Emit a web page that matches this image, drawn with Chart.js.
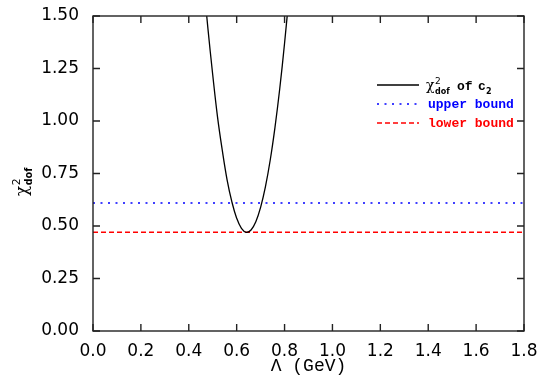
<!DOCTYPE html>
<html>
<head>
<meta charset="utf-8">
<script src="https://cdn.jsdelivr.net/npm/chart.js@4"></script>
<style>
  body { margin: 0; background: #fff; }
  #wrap { width: 540px; height: 377px; }
</style>
</head>
<body>
<div id="wrap"><canvas id="chi2Chart"></canvas></div>
<script>
// Values
const lambdaVals = [0.47, 0.48, 0.50, 0.52, 0.54, 0.56, 0.58, 0.60, 0.62, 0.64, 0.66, 0.68, 0.70, 0.72, 0.74, 0.76, 0.78, 0.80, 0.82];
const chi2Vals   = [1.56, 1.44, 1.22, 1.02, 0.86, 0.72, 0.615, 0.537, 0.489, 0.470, 0.481, 0.520, 0.589, 0.686, 0.813, 0.970, 1.155, 1.370, 1.61];
const boundRange = [0.0, 1.8];
const upperBound = [0.61, 0.61];
const lowerBound = [0.47, 0.47];
const xTickVals = [0.0, 0.2, 0.4, 0.6, 0.8, 1.0, 1.2, 1.4, 1.6, 1.8];
const yTickVals = [0.00, 0.25, 0.50, 0.75, 1.00, 1.25, 1.50];
const legendLabels = ['of', 'upper bound', 'lower bound'];

const toPoints = (xs, ys) => xs.map((x, i) => ({ x: x, y: ys[i] }));

// draws χ with stacked superscript "2" and subscript "dof"
function drawChi(ctx, x, y, s) {
    ctx.font = (14 * s) + 'px "DejaVu Serif"';
    ctx.fillText('χ', x, y);
    const w = ctx.measureText('χ').width;
    ctx.font = (9 * s) + 'px "DejaVu Sans"';
    ctx.fillText('2', x + w + 0.5, y - 6 * s);
    ctx.font = 'bold ' + (8 * s) + 'px "DejaVu Sans"';
    ctx.fillText('dof', x + w + 0.5, y + 4 * s);
}

const framePlugin = {
    id: 'frame',
    afterDraw(chart) {
        const { ctx, chartArea: a, scales } = chart;
        ctx.save();
        ctx.strokeStyle = '#222';
        ctx.lineWidth = 1.4;
        ctx.strokeRect(a.left, a.top, a.width, a.height);

        // inside ticks on all four sides
        const tl = 7;
        ctx.beginPath();
        xTickVals.forEach(v => {
            const px = scales.x.getPixelForValue(v);
            ctx.moveTo(px, a.bottom); ctx.lineTo(px, a.bottom - tl);
            ctx.moveTo(px, a.top); ctx.lineTo(px, a.top + tl);
        });
        yTickVals.forEach(v => {
            const py = scales.y.getPixelForValue(v);
            ctx.moveTo(a.left, py); ctx.lineTo(a.left + tl, py);
            ctx.moveTo(a.right, py); ctx.lineTo(a.right - tl, py);
        });
        ctx.stroke();

        // legend
        const lx = 377, lw = 42, rows = [85, 104, 123];
        chart.data.datasets.forEach((ds, i) => {
            ctx.strokeStyle = ds.borderColor;
            ctx.lineWidth = ds.borderWidth;
            ctx.setLineDash(ds.borderDash || []);
            ctx.beginPath();
            ctx.moveTo(lx, rows[i]); ctx.lineTo(lx + lw, rows[i]);
            ctx.stroke();
            ctx.setLineDash([]);
            ctx.fillStyle = ds.borderColor;
            ctx.textBaseline = 'alphabetic';
            ctx.textAlign = 'left';
            if (i === 0) {
                drawChi(ctx, 426, rows[i] + 5, 1);
                ctx.font = 'bold 13px "Liberation Mono"';
                ctx.fillText(legendLabels[0], 457, rows[i] + 5);
                ctx.fillText('c', 478, rows[i] + 5);
                ctx.font = 'bold 8px "DejaVu Sans"';
                ctx.fillText('2', 486, rows[i] + 9);
            } else {
                ctx.font = 'bold 13px "Liberation Mono"';
                ctx.fillText(legendLabels[i], 428, rows[i] + 4);
            }
        });

        // y axis title, rotated
        ctx.fillStyle = '#000';
        ctx.translate(27, 196);
        ctx.rotate(-Math.PI / 2);
        drawChi(ctx, 0, 0, 1.2);
        ctx.restore();
    }
};

const ctx = document.getElementById('chi2Chart').getContext('2d');

new Chart(ctx, {
    type: 'scatter',
    data: {
        datasets: [{
            label: 'chi2_dof of c2',
            data: toPoints(lambdaVals, chi2Vals),
            showLine: true,
            borderColor: '#000000',
            borderWidth: 1.3,
            pointRadius: 0,
            tension: 0.4
        }, {
            label: 'upper bound',
            data: toPoints(boundRange, upperBound),
            showLine: true,
            borderColor: '#0000ff',
            borderWidth: 1.5,
            borderDash: [2, 5.5],
            pointRadius: 0
        }, {
            label: 'lower bound',
            data: toPoints(boundRange, lowerBound),
            showLine: true,
            borderColor: '#ff0000',
            borderWidth: 1.5,
            borderDash: [5, 3],
            pointRadius: 0
        }]
    },
    options: {
        responsive: true,
        maintainAspectRatio: false,
        animation: false,
        layout: { padding: { left: 0, top: 16, right: 16, bottom: 0 } },
        plugins: {
            legend: { display: false },
            tooltip: { enabled: false }
        },
        scales: {
            x: {
                type: 'linear',
                min: 0,
                max: 1.8,
                afterBuildTicks: s => { s.ticks = xTickVals.map(v => ({ value: v })); },
                afterFit: s => { s.height = 46; s.paddingLeft = 0; s.paddingRight = 0; },
                grid: { display: false, drawTicks: false },
                border: { display: false },
                ticks: {
                    color: '#000',
                    padding: 10,
                    maxRotation: 0,
                    font: { family: 'DejaVu Sans', size: 17 },
                    callback: v => v.toFixed(1)
                },
                title: {
                    display: true,
                    text: 'Λ (GeV)',
                    color: '#000',
                    padding: 0,
                    font: { family: 'Liberation Mono', size: 18 }
                }
            },
            y: {
                type: 'linear',
                min: 0,
                max: 1.5,
                afterBuildTicks: s => { s.ticks = yTickVals.map(v => ({ value: v })); },
                afterFit: s => { s.width = 93; s.paddingTop = 0; s.paddingBottom = 0; },
                grid: { display: false, drawTicks: false },
                border: { display: false },
                ticks: {
                    color: '#000',
                    padding: 14,
                    font: { family: 'DejaVu Sans', size: 17 },
                    callback: v => v.toFixed(2)
                }
            }
        }
    },
    plugins: [framePlugin]
});
</script>
</body>
</html>
